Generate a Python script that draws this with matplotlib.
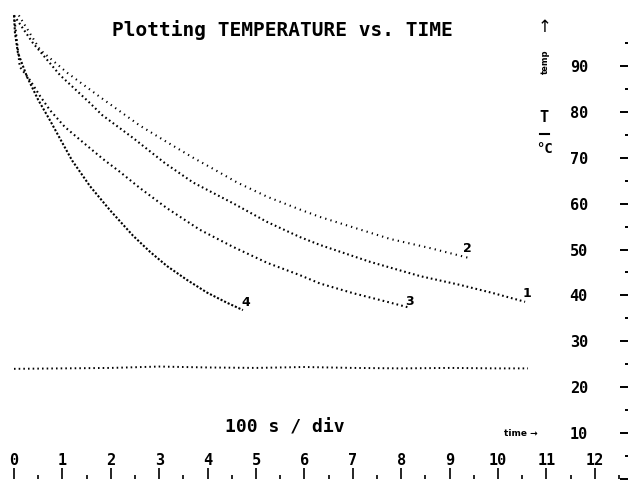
import matplotlib
matplotlib.use("Agg")
import matplotlib.pyplot as plt
from matplotlib.ticker import MultipleLocator, FixedLocator
from matplotlib.lines import Line2D

# ---- data (time in units of 100 s, temperature in degC) ----
time_1 = [0.0, 0.39, 0.95, 1.57, 1.82, 2.46, 3.12, 3.70, 4.52, 5.23, 5.91, 6.32, 7.36, 8.39, 9.21, 9.90, 10.56]
temp_1 = [101.0, 95.0, 88.0, 81.9, 79.3, 74.3, 68.8, 64.6, 60.1, 56.0, 52.7, 51.0, 47.3, 44.2, 42.3, 40.5, 38.6]

time_2 = [0.1, 0.54, 1.10, 1.78, 2.60, 3.16, 3.70, 4.11, 4.61, 5.23, 5.91, 6.32, 7.77, 8.60, 9.42]
temp_2 = [101.0, 93.5, 88.5, 83.2, 77.0, 73.4, 70.0, 67.6, 64.6, 61.5, 58.7, 57.1, 52.3, 50.3, 48.1]

time_3 = [0.0, 0.12, 0.33, 0.54, 0.74, 1.05, 1.51, 1.84, 2.19, 2.60, 3.16, 3.84, 4.52, 5.23, 5.91, 6.32, 7.00, 7.71, 8.18]
temp_3 = [101.0, 89.8, 86.9, 83.4, 80.4, 76.7, 72.6, 69.7, 66.9, 63.4, 59.0, 54.3, 50.6, 47.1, 44.4, 42.6, 40.5, 38.6, 37.3]

time_4 = [0.0, 0.02, 0.08, 0.27, 0.50, 0.74, 0.99, 1.20, 1.57, 1.98, 2.46, 2.81, 3.16, 3.57, 3.99, 4.40, 4.73]
temp_4 = [101.0, 97.2, 92.9, 87.6, 82.6, 78.2, 73.4, 69.4, 63.8, 58.6, 53.0, 49.5, 46.4, 43.4, 40.6, 38.4, 36.8]

time_amb = [0.0, 1.0, 2.0, 3.0, 4.0, 5.0, 6.0, 7.0, 8.0, 9.0, 10.0, 10.62]
temp_amb = [24.0, 24.1, 24.2, 24.5, 24.3, 24.2, 24.4, 24.2, 24.1, 24.2, 24.1, 24.1]

curve_labels = ["1", "2", "3", "4"]
x_ticks = list(range(0, 13))
x_ticklabels = [str(v) for v in x_ticks]
y_ticks = list(range(0, 100, 10))
y_ticklabels = ["" if v == 0 else str(v) for v in y_ticks]

title = "Plotting TEMPERATURE vs. TIME"
x_unit = "100 s / div"

# ---- figure ----
W, H = 632, 480
fig = plt.figure(figsize=(W / 100, H / 100), dpi=100)
fig.patch.set_facecolor("white")
ax = fig.add_axes([0, 1 / H, 628 / W, 479 / H])
ax.set_facecolor("white")
ax.set_xlim(-14 / 48.4, (628 - 14) / 48.4)
ax.set_ylim(0, 479 / 4.59)
for s in ax.spines.values():
    s.set_visible(False)

mono = "DejaVu Sans Mono"
ink = "black"

series = [
    (time_1, temp_1, (0, (0.8, 1.4))),
    (time_2, temp_2, (0, (0.6, 2.0))),
    (time_3, temp_3, (0, (0.8, 1.5))),
    (time_4, temp_4, (0, (1.0, 0.9))),
]
for (t, T, ls) in series:
    ax.plot(t, T, color=ink, lw=1.5, linestyle=ls, solid_capstyle="butt", dash_capstyle="butt")
ax.plot(time_amb, temp_amb, color=ink, lw=1.4, linestyle=(0, (0.8, 1.6)))

offsets = [(1, 1), (-2, 2), (0, 0), (2, 1)]
for (t, T, _), lab, off in zip(series, curve_labels, offsets):
    ax.annotate(lab, xy=(t[-1], T[-1]), xytext=off, textcoords="offset points",
                ha="center", va="bottom", fontsize=9, fontweight="bold", color=ink)

# ticks
ax.xaxis.set_major_locator(FixedLocator(x_ticks))
ax.set_xticklabels(x_ticklabels)
ax.xaxis.set_minor_locator(MultipleLocator(0.5))
ax.yaxis.tick_right()
ax.yaxis.set_major_locator(FixedLocator(y_ticks))
ax.set_yticklabels(y_ticklabels)
ax.set_yticks([v for v in range(5, 100, 10)], minor=True)

ax.tick_params(axis="x", which="major", direction="in", length=8, width=1.2,
               pad=-19, labelsize=11, colors=ink)
ax.tick_params(axis="x", which="minor", direction="in", length=3, width=1.2)
ax.tick_params(axis="y", which="major", direction="in", length=5.5, width=1.4,
               pad=-42, labelsize=11, colors=ink, right=True, left=False)
ax.tick_params(axis="y", which="minor", direction="in", length=2.2, width=1.4,
               right=True, left=False)
for lab in ax.get_xticklabels() + ax.get_yticklabels():
    lab.set_fontfamily(mono)
    lab.set_fontweight("bold")

def fx(px):
    return px / W

def fy(py):
    return 1 - py / H

fig.text(fx(282), fy(30), title, ha="center", va="center", fontsize=14,
         fontweight="bold", family=mono, color=ink)
fig.text(fx(285), fy(428), x_unit, ha="center", va="center", fontsize=13,
         fontweight="bold", family=mono, color=ink)
fig.text(fx(521), fy(433), "time \u2192", ha="center", va="center", fontsize=6.5,
         fontweight="bold", color=ink)
fig.text(fx(545), fy(27), "\u2191", ha="center", va="center", fontsize=12,
         color=ink)
fig.text(fx(545), fy(62), "temp", ha="center", va="center", fontsize=6,
         fontweight="bold", rotation=90, color=ink)
fig.text(fx(544), fy(118), "T", ha="center", va="center", fontsize=11,
         fontweight="bold", family=mono, color=ink)
fig.add_artist(Line2D([fx(540), fx(549)], [fy(134), fy(134)], color=ink, lw=1.5))
fig.text(fx(544), fy(149), "\u00b0C", ha="center", va="center", fontsize=10,
         fontweight="bold", family=mono, color=ink)

fig.savefig("out.png", dpi=100, facecolor="white")
